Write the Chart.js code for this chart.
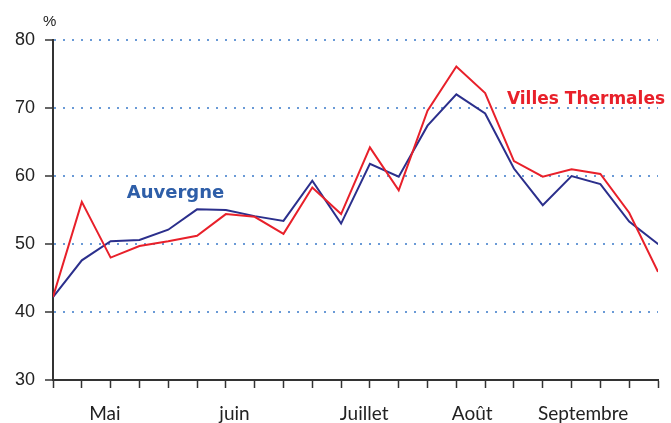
<!DOCTYPE html>
<html>
<head>
<meta charset="utf-8">
<script src="https://cdn.jsdelivr.net/npm/chart.js@4.4.1/dist/chart.umd.min.js"></script>
<style>
  html, body { margin: 0; padding: 0; background: #fff; }
  #wrap { width: 671px; height: 423px; position: relative; }
</style>
</head>
<body>
<div id="wrap"><canvas id="c" width="671" height="423"></canvas></div>
<script>
// Weekly index (0..21)
const weeks = [0,1,2,3,4,5,6,7,8,9,10,11,12,13,14,15,16,17,18,19,20,21];
const villesThermales = [42.2,56.2,48.0,49.7,50.4,51.2,54.4,54.0,51.5,58.3,54.4,64.2,57.9,69.6,76.1,72.2,62.2,59.9,61.0,60.3,54.6,45.9];
const auvergne        = [42.2,47.6,50.4,50.6,52.1,55.1,55.0,54.1,53.4,59.3,53.0,61.8,59.9,67.4,72.0,69.2,61.1,55.7,60.0,58.8,53.3,50.0];
const monthLabels = ['Mai','juin','Juillet','Août','Septembre'];
const monthPositions = [1.8,6.3,10.8,14.55,18.4];
const yTicks = [30,40,50,60,70,80];
const seriesNames = ['Villes Thermales','Auvergne'];
const seriesLabelPos = [{x:18.5,y:71.2},{x:4.25,y:57.5}];

const RED = '#e8202a', NAVY = '#2b2f8c', LBLUE = '#2e5ea8';
const FONT = 'Lato, "Open Sans", sans-serif';
const NUMFONT = '"Liberation Sans", Arial, sans-serif';
const LABFONT = '"DejaVu Sans", sans-serif';

const annot = {
  id: 'annot',
  afterDatasetsDraw(chart) {
    const {ctx, scales} = chart;
    ctx.save();
    ctx.textAlign = 'center';
    ctx.textBaseline = 'middle';
    ctx.font = 'bold 17px ' + LABFONT;
    ctx.fillStyle = RED;
    ctx.fillText(seriesNames[0], scales.x.getPixelForValue(seriesLabelPos[0].x), scales.y.getPixelForValue(seriesLabelPos[0].y));
    ctx.font = 'bold 18px ' + LABFONT;
    ctx.fillStyle = LBLUE;
    ctx.fillText(seriesNames[1], scales.x.getPixelForValue(seriesLabelPos[1].x), scales.y.getPixelForValue(seriesLabelPos[1].y));
    ctx.font = '15px ' + NUMFONT;
    ctx.fillStyle = '#222';
    ctx.textAlign = 'left';
    ctx.fillText('%', scales.y.right - 10, scales.y.top - 18);
    ctx.restore();
  }
};

new Chart(document.getElementById('c'), {
  type: 'line',
  data: {
    datasets: [
      { label: seriesNames[0], data: weeks.map((w,i)=>({x:w,y:villesThermales[i]})), borderColor: RED, borderWidth: 2, pointRadius: 0, tension: 0, fill: false },
      { label: seriesNames[1], data: weeks.map((w,i)=>({x:w,y:auvergne[i]})), borderColor: NAVY, borderWidth: 2, pointRadius: 0, tension: 0, fill: false }
    ]
  },
  options: {
    responsive: false,
    animation: false,
    devicePixelRatio: 1,
    layout: { padding: { top: 40, right: 13, left: 0, bottom: 0 } },
    plugins: { legend: { display: false }, tooltip: { enabled: false } },
    scales: {
      x: {
        type: 'linear', min: 0, max: 21, position: 'bottom',
        afterBuildTicks: s => { s.ticks = weeks.map(v => ({value: v})); },
        afterFit: s => { s.height = 10; },
        ticks: { display: false },
        grid: { drawOnChartArea: false, drawTicks: true, tickLength: 8, tickColor: '#333', tickWidth: 1.5 },
        border: { color: '#333', width: 2 }
      },
      x2: {
        type: 'linear', min: 0, max: 21, position: 'bottom',
        afterBuildTicks: s => { s.ticks = monthPositions.map(v => ({value: v})); },
        afterFit: s => { s.height = 33; },
        ticks: {
          autoSkip: false, maxRotation: 0, padding: 12, color: '#222',
          font: { family: FONT, size: 19 },
          callback: (v, i) => monthLabels[i]
        },
        grid: { display: false, drawTicks: false },
        border: { display: false }
      },
      y: {
        min: 30, max: 80,
        afterBuildTicks: s => { s.ticks = yTicks.map(v => ({value: v})); },
        afterFit: s => { s.width = 53; },
        ticks: { color: '#222', padding: 10, font: { family: NUMFONT, size: 18 } },
        grid: {
          color: ctx => (ctx.tick && ctx.tick.value === 30) ? 'rgba(0,0,0,0)' : '#6a9ad6',
          lineWidth: 2, drawTicks: true, tickLength: 8, tickColor: '#333', tickWidth: 1.5
        },
        border: { color: '#333', width: 2, dash: [2, 7] }
      }
    }
  },
  plugins: [annot]
});
</script>
</body>
</html>
